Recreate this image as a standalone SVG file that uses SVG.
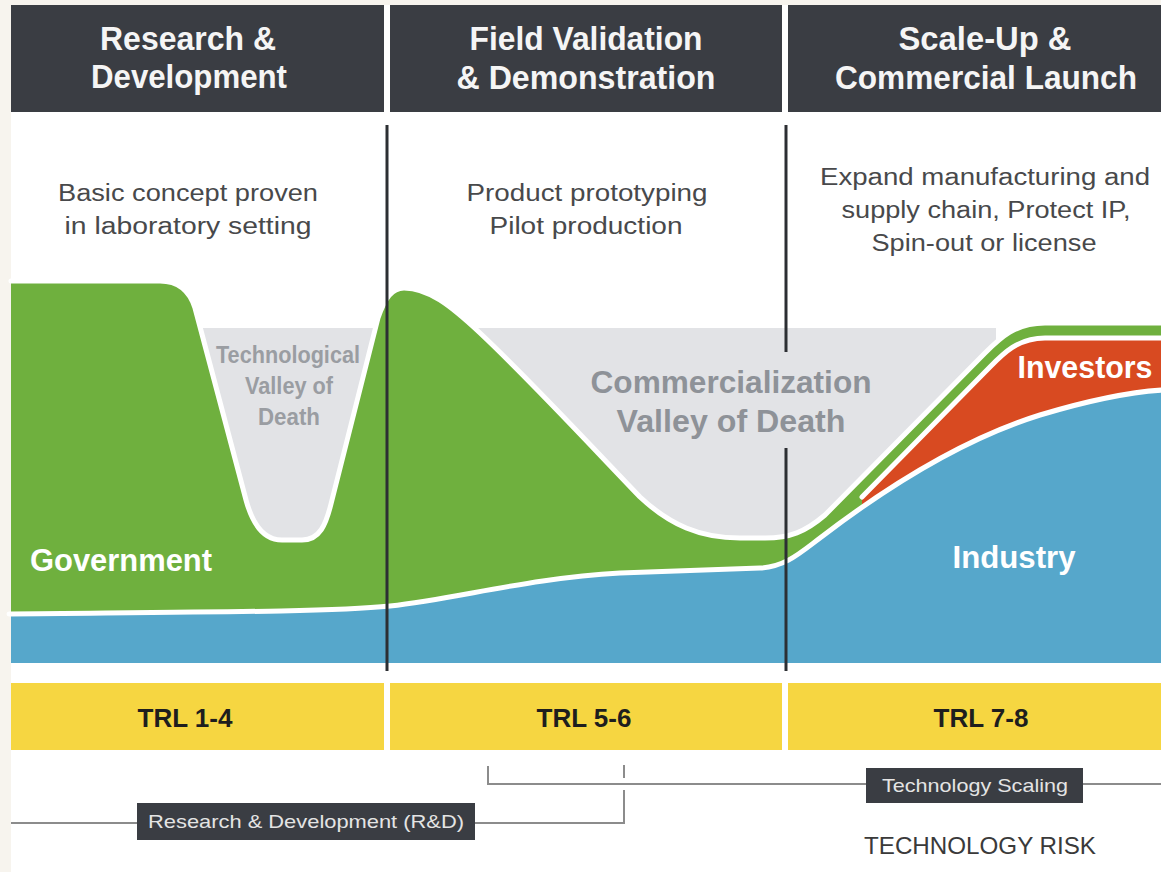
<svg xmlns="http://www.w3.org/2000/svg" width="1161" height="872" viewBox="0 0 1161 872">
  <style>
    .hdr { fill: #3a3d43; }
    .htxt { font-family: "Liberation Sans", Arial, sans-serif; font-weight: 700; font-size: 33px; fill: #f5f5f5; text-anchor: middle; }
    .desc { font-family: "Liberation Sans", Arial, sans-serif; font-size: 23px; fill: #48494b; text-anchor: middle; }
    .vtxt { font-family: "Liberation Sans", Arial, sans-serif; font-weight: 700; fill: #9a9da2; text-anchor: middle; }
    .ltxt { font-family: "Liberation Sans", Arial, sans-serif; font-weight: 700; font-size: 32px; fill: #ffffff; text-anchor: middle; }
    .trl { fill: #f6d641; }
    .trltxt { font-family: "Liberation Sans", Arial, sans-serif; font-weight: 700; font-size: 26px; fill: #1e1e1e; text-anchor: middle; }
    .div { stroke: #2c2f33; stroke-width: 3; }
    .edge { fill: none; stroke: #ffffff; stroke-width: 5; stroke-linejoin: round; stroke-linecap: round; }
    .conn { fill: none; stroke: #8c8c8c; stroke-width: 2; }
    .tag { fill: #3a3d43; }
    .tagtxt { font-family: "Liberation Sans", Arial, sans-serif; font-size: 19px; fill: #e4e4e4; text-anchor: middle; }
  </style>

  <!-- page -->
  <rect x="0" y="0" width="1161" height="872" fill="#f7f4ee"/>
  <rect x="11" y="5" width="1150" height="867" fill="#ffffff"/>

  <!-- phase headers -->
  <g id="header-rd">
    <rect class="hdr" x="11" y="5" width="373" height="107"/>
    <text class="htxt" x="188" y="50" textLength="176" lengthAdjust="spacingAndGlyphs">Research &amp;</text>
    <text class="htxt" x="189" y="88" textLength="196" lengthAdjust="spacingAndGlyphs">Development</text>
  </g>
  <g id="header-fv">
    <rect class="hdr" x="390" y="5" width="392" height="107"/>
    <text class="htxt" x="586" y="50" textLength="233" lengthAdjust="spacingAndGlyphs">Field Validation</text>
    <text class="htxt" x="586" y="89" textLength="259" lengthAdjust="spacingAndGlyphs">&amp; Demonstration</text>
  </g>
  <g id="header-su">
    <rect class="hdr" x="788" y="5" width="373" height="107"/>
    <text class="htxt" x="985" y="50" textLength="173" lengthAdjust="spacingAndGlyphs">Scale-Up &amp;</text>
    <text class="htxt" x="986" y="89" textLength="302" lengthAdjust="spacingAndGlyphs">Commercial Launch</text>
  </g>

  <!-- phase descriptions -->
  <g id="desc-rd">
    <text class="desc" x="188" y="201" textLength="260" lengthAdjust="spacingAndGlyphs">Basic concept proven</text>
    <text class="desc" x="188" y="234" textLength="247" lengthAdjust="spacingAndGlyphs">in laboratory setting</text>
  </g>
  <g id="desc-fv">
    <text class="desc" x="587" y="201" textLength="241" lengthAdjust="spacingAndGlyphs">Product prototyping</text>
    <text class="desc" x="586" y="234" textLength="193" lengthAdjust="spacingAndGlyphs">Pilot production</text>
  </g>
  <g id="desc-su">
    <text class="desc" x="985" y="185" textLength="330" lengthAdjust="spacingAndGlyphs">Expand manufacturing and</text>
    <text class="desc" x="986" y="218" textLength="289" lengthAdjust="spacingAndGlyphs">supply chain, Protect IP,</text>
    <text class="desc" x="984" y="251" textLength="225" lengthAdjust="spacingAndGlyphs">Spin-out or license</text>
  </g>

  <!-- funding chart -->
  <g id="valleys">
    <rect x="202" y="328" width="794" height="222" fill="#e2e3e6"/>
  </g>
  <g id="government">
    <path fill="#6fb03e" d="M11,281 L160,281 C180,281 190,292 195,308 L246,500 C252,522 262,540 282,540 L302,540 C320,540 326,524 331,504 L378,318 C385,298 392,288 404,288 C428,288 450,305 480,333 C530,380 590,445 640,497 C670,525 700,538 740,538 L765,538 C790,538 805,532 825,515 L985,353 C1000,338 1015,323 1045,323 L1161,323 L1161,640 L11,640 Z"/>
    <path class="edge" d="M11,281 L160,281 C180,281 190,292 195,308 L246,500 C252,522 262,540 282,540 L302,540 C320,540 326,524 331,504 L378,318 C385,298 392,288 404,288 C428,288 450,305 480,333 C530,380 590,445 640,497 C670,525 700,538 740,538 L765,538 C790,538 805,532 825,515 L985,353 C1000,338 1015,323 1045,323 L1163,323"/>
  </g>
  <g id="investors">
    <path fill="#d84a21" d="M862,497 L985,372 C1000,357 1015,338 1045,338 L1161,338 L1161,600 L862,600 Z"/>
    <path class="edge" d="M862,497 L985,372 C1000,357 1015,338 1045,338 L1163,338"/>
  </g>
  <g id="industry">
    <path fill="#56a7cb" d="M11,614 C200,612 330,612 390,606 C460,598 530,578 620,573 L760,568 C785,567 800,553 820,538 C880,492 960,440 1040,415 C1090,400 1130,392 1161,390 L1161,663 L11,663 Z"/>
    <path class="edge" d="M9,614 C200,612 330,612 390,606 C460,598 530,578 620,573 L760,568 C785,567 800,553 820,538 C880,492 960,440 1040,415 C1090,400 1130,392 1163,390"/>
  </g>

  <!-- chart labels -->
  <g id="label-tech-valley">
    <text class="vtxt" font-size="23" x="288" y="363" textLength="144" lengthAdjust="spacingAndGlyphs">Technological</text>
    <text class="vtxt" font-size="23" x="289" y="394" textLength="88" lengthAdjust="spacingAndGlyphs">Valley of</text>
    <text class="vtxt" font-size="23" x="289" y="425" textLength="62" lengthAdjust="spacingAndGlyphs">Death</text>
  </g>
  <g id="label-comm-valley">
    <text class="vtxt" font-size="31" x="731" y="393" textLength="281" lengthAdjust="spacingAndGlyphs" style="fill:#8e9298">Commercialization</text>
    <text class="vtxt" font-size="31" x="731" y="432" textLength="229" lengthAdjust="spacingAndGlyphs" style="fill:#8e9298">Valley of Death</text>
  </g>
  <text class="ltxt" id="label-government" x="121" y="571" textLength="182" lengthAdjust="spacingAndGlyphs">Government</text>
  <text class="ltxt" id="label-investors" x="1085" y="378" textLength="135" lengthAdjust="spacingAndGlyphs">Investors</text>
  <text class="ltxt" id="label-industry" x="1014" y="568" textLength="123" lengthAdjust="spacingAndGlyphs">Industry</text>

  <!-- phase dividers -->
  <g id="dividers">
    <line class="div" x1="387" y1="125" x2="387" y2="671"/>
    <line class="div" x1="786" y1="125" x2="786" y2="352"/>
    <line class="div" x1="786" y1="448" x2="786" y2="671"/>
  </g>

  <!-- readiness levels -->
  <g id="trl-1-4">
    <rect class="trl" x="11" y="683" width="373" height="67"/>
    <text class="trltxt" x="185" y="727" textLength="95" lengthAdjust="spacingAndGlyphs">TRL 1-4</text>
  </g>
  <g id="trl-5-6">
    <rect class="trl" x="390" y="683" width="392" height="67"/>
    <text class="trltxt" x="584" y="727" textLength="95" lengthAdjust="spacingAndGlyphs">TRL 5-6</text>
  </g>
  <g id="trl-7-8">
    <rect class="trl" x="788" y="683" width="373" height="67"/>
    <text class="trltxt" x="981" y="727" textLength="95" lengthAdjust="spacingAndGlyphs">TRL 7-8</text>
  </g>

  <!-- span brackets -->
  <g id="connectors">
    <path class="conn" d="M11,823 H137"/>
    <path class="conn" d="M475,823 H624 V790"/>
    <path class="conn" d="M624,778 V765"/>
    <path class="conn" d="M488,766 V784 H866"/>
    <path class="conn" d="M1083,784 H1161"/>
  </g>

  <g id="tag-rd">
    <rect class="tag" x="137" y="803" width="338" height="37"/>
    <text class="tagtxt" x="306" y="828" textLength="316" lengthAdjust="spacingAndGlyphs">Research &amp; Development (R&amp;D)</text>
  </g>
  <g id="tag-scaling">
    <rect class="tag" x="866" y="768" width="217" height="35"/>
    <text class="tagtxt" x="975" y="792" textLength="186" lengthAdjust="spacingAndGlyphs">Technology Scaling</text>
  </g>
  <text id="technology-risk" x="980" y="854" font-family="Liberation Sans, Arial, sans-serif" font-size="24" fill="#3a3a3a" text-anchor="middle" textLength="232" lengthAdjust="spacingAndGlyphs">TECHNOLOGY RISK</text>
</svg>
